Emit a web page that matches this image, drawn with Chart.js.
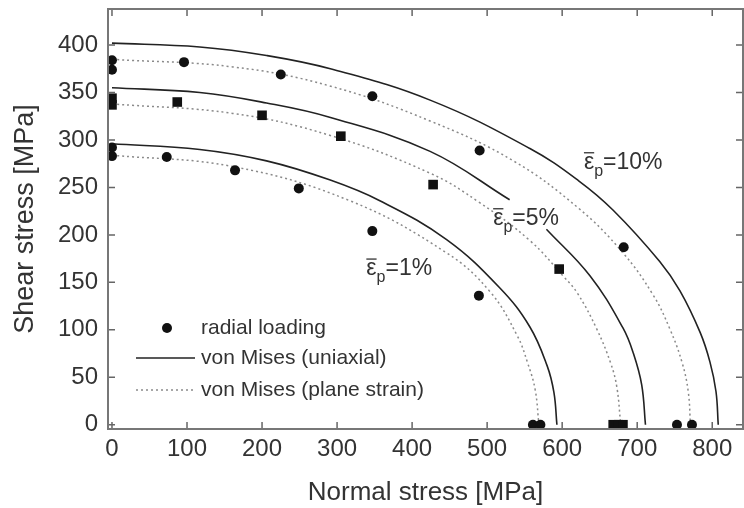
<!DOCTYPE html>
<html>
<head>
<meta charset="utf-8">
<script src="https://cdn.jsdelivr.net/npm/chart.js@4.4.1/dist/chart.umd.min.js"></script>
<style>
    html, body { margin: 0; padding: 0; background: #fff; }
</style>
</head>
<body>
<canvas id="chart" width="744" height="508"></canvas>
<script>
// tick values
const xTicks = [0, 100, 200, 300, 400, 500, 600, 700, 800];
const yTicks = [0, 50, 100, 150, 200, 250, 300, 350, 400];

// radial loading tests (1%, 5%, 10% plastic strain)
const radX1 = [0, 0, 73, 164, 249, 347, 489, 561, 571];
const radY1 = [292, 283, 282, 268, 249, 204, 136, 0, 0];
const radX5 = [0, 0, 87, 200, 305, 428, 596, 668, 675, 681];
const radY5 = [344, 337, 340, 326, 304, 253, 164, 0, 0, 0];
const radX10 = [0, 0, 96, 225, 347, 490, 682, 753, 773];
const radY10 = [384, 374, 382, 369, 346, 289, 187, 0, 0];

// von Mises (uniaxial)
const uniX1 = [0, 117, 206, 290, 357, 446, 517, 557, 580, 589, 593];
const uniY1 = [296, 290, 278, 258, 236, 195, 144, 103, 62, 34, 0];
const uniX5a = [0, 117, 206, 290, 424, 530];
const uniY5a = [355, 350, 339, 324, 288, 237];
const uniX5b = [579, 637, 681, 695, 706, 711];
const uniY5b = [206, 157, 102, 75, 42, 0];
const uniX10 = [0, 117, 206, 291, 424, 557, 622, 668, 730, 757, 784, 797, 805, 808];
const uniY10 = [402, 398, 389, 375, 342, 291, 257, 226, 172, 141, 97, 66, 35, 0];

// von Mises (plane strain)
const psX1 = [0, 161, 317, 446, 504, 540, 554, 564, 569];
const psY1 = [284, 272, 236, 181, 140, 94, 65, 37, 0];
const psX5 = [0, 161, 290, 424, 490, 557, 602, 620, 646, 665, 673, 678];
const psY5 = [338, 328, 305, 265, 234, 194, 156, 139, 101, 64, 39, 0];
const psX10 = [0, 161, 290, 424, 535, 622, 680, 721, 744, 760, 768, 771];
const psY10 = [385, 377, 357, 320, 278, 228, 182, 137, 100, 65, 35, 0];

const FONT = '"Liberation Sans", Arial, sans-serif';
const TXT = '#333';

const pts = (xs, ys) => xs.map((x, i) => ({x: x, y: ys[i]}));

const solid = (xs, ys) => ({
    data: pts(xs, ys), showLine: true, pointRadius: 0,
    borderColor: '#222', borderWidth: 1.6, tension: 0.4
});
const dotted = (xs, ys) => ({
    data: pts(xs, ys), showLine: true, pointRadius: 0,
    borderColor: '#8a8a8a', borderWidth: 1.5, borderDash: [2, 3], tension: 0.4
});
const marks = (xs, ys, style, r) => ({
    data: pts(xs, ys), showLine: false, pointStyle: style, pointRadius: r,
    backgroundColor: '#111', borderColor: '#111', borderWidth: 0
});

// frame with inward ticks on all four sides
const frame = {
    id: 'frame',
    afterDraw(chart) {
        const {ctx, chartArea: a, scales} = chart;
        ctx.save();
        ctx.strokeStyle = '#666';
        ctx.lineWidth = 1.5;
        ctx.beginPath();
        xTicks.forEach(v => {
            const p = scales.x.getPixelForValue(v);
            ctx.moveTo(p, a.bottom); ctx.lineTo(p, a.bottom - 7);
            ctx.moveTo(p, a.top); ctx.lineTo(p, a.top + 7);
        });
        yTicks.forEach(v => {
            const p = scales.y.getPixelForValue(v);
            ctx.moveTo(a.left, p); ctx.lineTo(a.left + 7, p);
            ctx.moveTo(a.right, p); ctx.lineTo(a.right - 7, p);
        });
        ctx.stroke();
        ctx.lineWidth = 2;
        ctx.strokeStyle = '#777';
        ctx.strokeRect(a.left, a.top, a.right - a.left, a.bottom - a.top);
        ctx.restore();
    }
};

// strain labels and the legend box
const notes = {
    id: 'notes',
    afterDraw(chart) {
        const {ctx, chartArea: a, scales} = chart;
        ctx.save();
        ctx.fillStyle = TXT;
        ctx.strokeStyle = TXT;
        ctx.textBaseline = 'middle';
        ctx.textAlign = 'left';

        const eps = (vx, vy, pct) => {
            const x = scales.x.getPixelForValue(vx);
            const y = scales.y.getPixelForValue(vy);
            ctx.font = '23px ' + FONT;
            const w = ctx.measureText('ε').width;
            ctx.fillText('ε', x, y);
            ctx.lineWidth = 1.3;
            ctx.beginPath();
            ctx.moveTo(x, y - 10); ctx.lineTo(x + w, y - 10);
            ctx.stroke();
            ctx.font = '16px ' + FONT;
            ctx.fillText('p', x + w, y + 9);
            const pw = ctx.measureText('p').width;
            ctx.font = '23px ' + FONT;
            ctx.fillText('=' + pct, x + w + pw, y);
        };
        eps(629, 276, '10%');
        eps(508, 217, '5%');
        eps(339, 164, '1%');

        // legend
        const lx = a.left + 28, tx = a.left + 93;
        ctx.font = '21px ' + FONT;
        ctx.beginPath();
        ctx.arc(a.left + 59, 328, 5, 0, Math.PI * 2);
        ctx.fillStyle = '#111';
        ctx.fill();
        ctx.fillStyle = TXT;
        ctx.fillText('radial loading', tx, 328);

        ctx.strokeStyle = '#222';
        ctx.lineWidth = 1.6;
        ctx.beginPath();
        ctx.moveTo(lx, 358); ctx.lineTo(lx + 59, 358);
        ctx.stroke();
        ctx.fillText('von Mises (uniaxial)', tx, 358);

        ctx.strokeStyle = '#8a8a8a';
        ctx.lineWidth = 1.5;
        ctx.setLineDash([2, 3]);
        ctx.beginPath();
        ctx.moveTo(lx, 390); ctx.lineTo(lx + 59, 390);
        ctx.stroke();
        ctx.setLineDash([]);
        ctx.fillText('von Mises (plane strain)', tx, 390);
        ctx.restore();
    }
};

const ctx = document.getElementById('chart');
new Chart(ctx, {
    type: 'scatter',
    data: {
        datasets: [
            marks(radX1, radY1, 'circle', 5),
            marks(radX5, radY5, 'rect', 6.8),
            marks(radX10, radY10, 'circle', 5),
            solid(uniX1, uniY1),
            solid(uniX5a, uniY5a),
            solid(uniX5b, uniY5b),
            solid(uniX10, uniY10),
            dotted(psX1, psY1),
            dotted(psX5, psY5),
            dotted(psX10, psY10)
        ]
    },
    options: {
        responsive: false,
        animation: false,
        devicePixelRatio: 1,
        layout: { autoPadding: false, padding: { left: 0, top: 9, right: 1, bottom: 0 } },
        plugins: {
            legend: { display: false },
            tooltip: { enabled: false }
        },
        scales: {
            x: {
                type: 'linear',
                min: -5.3,
                max: 841,
                afterBuildTicks: s => { s.ticks = xTicks.map(v => ({value: v})); },
                afterFit: s => { s.height = 79; s.paddingLeft = 0; s.paddingRight = 0; },
                grid: { display: false, drawTicks: false },
                border: { display: false },
                ticks: {
                    font: { family: FONT, size: 24 },
                    color: TXT, padding: 6, maxRotation: 0, autoSkip: false
                },
                title: {
                    display: true, text: 'Normal stress [MPa]',
                    font: { family: FONT, size: 26 }, color: TXT,
                    padding: { top: 0, bottom: 0 }
                }
            },
            y: {
                type: 'linear',
                min: -4.5,
                max: 438,
                afterBuildTicks: s => { s.ticks = yTicks.map(v => ({value: v})); },
                afterFit: s => { s.width = 108; s.paddingTop = 0; s.paddingBottom = 0; },
                grid: { display: false, drawTicks: false },
                border: { display: false },
                ticks: {
                    font: { family: FONT, size: 24 },
                    color: TXT, padding: 10, autoSkip: false
                },
                title: {
                    display: true, text: 'Shear stress [MPa]',
                    font: { family: FONT, size: 27 }, color: TXT,
                    padding: { top: 9, bottom: 0 }
                }
            }
        }
    },
    plugins: [frame, notes]
});
</script>
</body>
</html>
